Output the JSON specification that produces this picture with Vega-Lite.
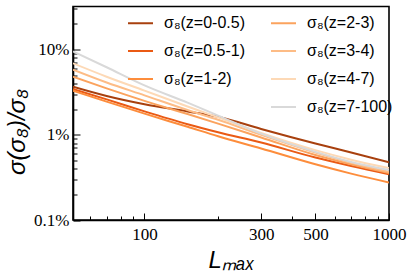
{
  "$schema": "https://vega.github.io/schema/vega-lite/v6.json",
  "autosize": {"type": "none"},
  "padding": {"left": 73, "top": 6.5, "right": 26, "bottom": 57},
  "width": 316,
  "height": 213.5,
  "background": "white",
  "config": {
    "view": {"stroke": "black", "strokeWidth": 1.6},
    "axis": {
      "grid": false,
      "domainColor": "black",
      "domainWidth": 1.6,
      "tickColor": "black",
      "tickWidth": 1,
      "labelFont": "Liberation Serif",
      "labelFontSize": 17,
      "labelColor": "black",
      "titleColor": "black",
      "titleFontWeight": "normal"
    }
  },
  "data": {
    "values": [
      {"series": "σ₈(z=0-0.5)", "L": 51, "s": 0.0366},
      {"series": "σ₈(z=0-0.5)", "L": 70, "s": 0.0285},
      {"series": "σ₈(z=0-0.5)", "L": 100, "s": 0.0228},
      {"series": "σ₈(z=0-0.5)", "L": 150, "s": 0.0188},
      {"series": "σ₈(z=0-0.5)", "L": 200, "s": 0.0163},
      {"series": "σ₈(z=0-0.5)", "L": 300, "s": 0.0117},
      {"series": "σ₈(z=0-0.5)", "L": 500, "s": 0.0079},
      {"series": "σ₈(z=0-0.5)", "L": 700, "s": 0.0062},
      {"series": "σ₈(z=0-0.5)", "L": 1000, "s": 0.00475},
      {"series": "σ₈(z=0.5-1)", "L": 51, "s": 0.0344},
      {"series": "σ₈(z=0.5-1)", "L": 70, "s": 0.026},
      {"series": "σ₈(z=0.5-1)", "L": 100, "s": 0.0188},
      {"series": "σ₈(z=0.5-1)", "L": 150, "s": 0.0133},
      {"series": "σ₈(z=0.5-1)", "L": 200, "s": 0.0107},
      {"series": "σ₈(z=0.5-1)", "L": 300, "s": 0.0081},
      {"series": "σ₈(z=0.5-1)", "L": 500, "s": 0.0054},
      {"series": "σ₈(z=0.5-1)", "L": 700, "s": 0.0043},
      {"series": "σ₈(z=0.5-1)", "L": 1000, "s": 0.00345},
      {"series": "σ₈(z=1-2)", "L": 51, "s": 0.0329},
      {"series": "σ₈(z=1-2)", "L": 70, "s": 0.0245},
      {"series": "σ₈(z=1-2)", "L": 100, "s": 0.0177},
      {"series": "σ₈(z=1-2)", "L": 150, "s": 0.0124},
      {"series": "σ₈(z=1-2)", "L": 200, "s": 0.0096},
      {"series": "σ₈(z=1-2)", "L": 300, "s": 0.0069},
      {"series": "σ₈(z=1-2)", "L": 500, "s": 0.0045},
      {"series": "σ₈(z=1-2)", "L": 700, "s": 0.0035},
      {"series": "σ₈(z=1-2)", "L": 1000, "s": 0.00276},
      {"series": "σ₈(z=2-3)", "L": 51, "s": 0.048},
      {"series": "σ₈(z=2-3)", "L": 70, "s": 0.035},
      {"series": "σ₈(z=2-3)", "L": 100, "s": 0.025},
      {"series": "σ₈(z=2-3)", "L": 150, "s": 0.0175},
      {"series": "σ₈(z=2-3)", "L": 200, "s": 0.0135},
      {"series": "σ₈(z=2-3)", "L": 300, "s": 0.0093},
      {"series": "σ₈(z=2-3)", "L": 500, "s": 0.0058},
      {"series": "σ₈(z=2-3)", "L": 700, "s": 0.0045},
      {"series": "σ₈(z=2-3)", "L": 1000, "s": 0.00355},
      {"series": "σ₈(z=3-4)", "L": 51, "s": 0.058},
      {"series": "σ₈(z=3-4)", "L": 70, "s": 0.041},
      {"series": "σ₈(z=3-4)", "L": 100, "s": 0.029},
      {"series": "σ₈(z=3-4)", "L": 150, "s": 0.0195},
      {"series": "σ₈(z=3-4)", "L": 200, "s": 0.015},
      {"series": "σ₈(z=3-4)", "L": 300, "s": 0.01},
      {"series": "σ₈(z=3-4)", "L": 500, "s": 0.0062},
      {"series": "σ₈(z=3-4)", "L": 700, "s": 0.0047},
      {"series": "σ₈(z=3-4)", "L": 1000, "s": 0.00368},
      {"series": "σ₈(z=4-7)", "L": 51, "s": 0.069},
      {"series": "σ₈(z=4-7)", "L": 70, "s": 0.048},
      {"series": "σ₈(z=4-7)", "L": 100, "s": 0.033},
      {"series": "σ₈(z=4-7)", "L": 150, "s": 0.0215},
      {"series": "σ₈(z=4-7)", "L": 200, "s": 0.016},
      {"series": "σ₈(z=4-7)", "L": 300, "s": 0.0105},
      {"series": "σ₈(z=4-7)", "L": 500, "s": 0.0066},
      {"series": "σ₈(z=4-7)", "L": 700, "s": 0.0051},
      {"series": "σ₈(z=4-7)", "L": 1000, "s": 0.00406},
      {"series": "σ₈(z=7-100)", "L": 51, "s": 0.095},
      {"series": "σ₈(z=7-100)", "L": 70, "s": 0.062},
      {"series": "σ₈(z=7-100)", "L": 100, "s": 0.038},
      {"series": "σ₈(z=7-100)", "L": 150, "s": 0.0238},
      {"series": "σ₈(z=7-100)", "L": 200, "s": 0.0168},
      {"series": "σ₈(z=7-100)", "L": 300, "s": 0.0103},
      {"series": "σ₈(z=7-100)", "L": 500, "s": 0.0063},
      {"series": "σ₈(z=7-100)", "L": 700, "s": 0.0048},
      {"series": "σ₈(z=7-100)", "L": 1000, "s": 0.00385}
    ]
  },
  "mark": {"type": "line", "strokeWidth": 2, "interpolate": "monotone", "clip": true},
  "encoding": {
    "x": {
      "field": "L", "type": "quantitative",
      "scale": {"type": "log", "domain": [51, 1000], "nice": false},
      "axis": {
        "title": "Lₘₐₓ",
        "titleFont": "Liberation Sans",
        "titleFontSize": 24,
        "titleFontStyle": "italic",
        "titleY": 47,
        "titleBaseline": "alphabetic",
        "values": [60, 70, 80, 90, 100, 200, 300, 400, 500, 600, 700, 800, 900, 1000],
        "labelExpr": "indexof([100, 300, 500, 1000], datum.value) >= 0 ? datum.value : ''",
        "tickSize": {"condition": {"test": "indexof([100, 300, 500, 1000], datum.value) >= 0", "value": -7}, "value": -4},
        "labelPadding": 13,
        "labelFlush": false,
        "labelOverlap": false
      }
    },
    "y": {
      "field": "s", "type": "quantitative",
      "scale": {"type": "log", "domain": [0.001, 0.32], "nice": false},
      "axis": {
        "title": "σ(σ₈)/σ₈",
        "titleFont": "Liberation Sans",
        "titleFontSize": 24,
        "titleFontStyle": "italic",
        "titleX": -56,
        "titleY": 125,
        "titleBaseline": "middle",
        "titleAlign": "center",
        "values": [0.001, 0.002, 0.003, 0.004, 0.005, 0.006, 0.007, 0.008, 0.009, 0.01, 0.02, 0.03, 0.04, 0.05, 0.06, 0.07, 0.08, 0.09, 0.1, 0.2, 0.3],
        "labelExpr": "datum.value == 0.001 ? '0.1%' : datum.value == 0.01 ? '1%' : datum.value == 0.1 ? '10%' : ''",
        "tickSize": {"condition": {"test": "indexof([0.001, 0.01, 0.1], datum.value) >= 0", "value": -7}, "value": -4},
        "labelPadding": 11,
        "labelFlush": false,
        "labelOverlap": false
      }
    },
    "color": {
      "field": "series", "type": "nominal",
      "scale": {
        "domain": ["σ₈(z=0-0.5)", "σ₈(z=0.5-1)", "σ₈(z=1-2)", " ", "σ₈(z=2-3)", "σ₈(z=3-4)", "σ₈(z=4-7)", "σ₈(z=7-100)"],
        "range": ["#a8400e", "#ea5a14", "#fd8d3c", "rgba(0,0,0,0)", "#fba35e", "#fdbc86", "#fdd9b6", "#d9d9d9"]
      },
      "legend": {
        "title": null,
        "orient": "none",
        "legendX": 54,
        "legendY": 3,
        "columns": 2,
        "columnPadding": 22,
        "rowPadding": 6,
        "symbolType": "stroke",
        "symbolSize": 625,
        "symbolStrokeWidth": 2,
        "labelFont": "Liberation Sans",
        "labelFontSize": 16,
        "labelColor": "black",
        "labelOffset": 10,
        "labelLimit": 200
      }
    },
    "order": {"field": "L", "type": "quantitative"}
  }
}
